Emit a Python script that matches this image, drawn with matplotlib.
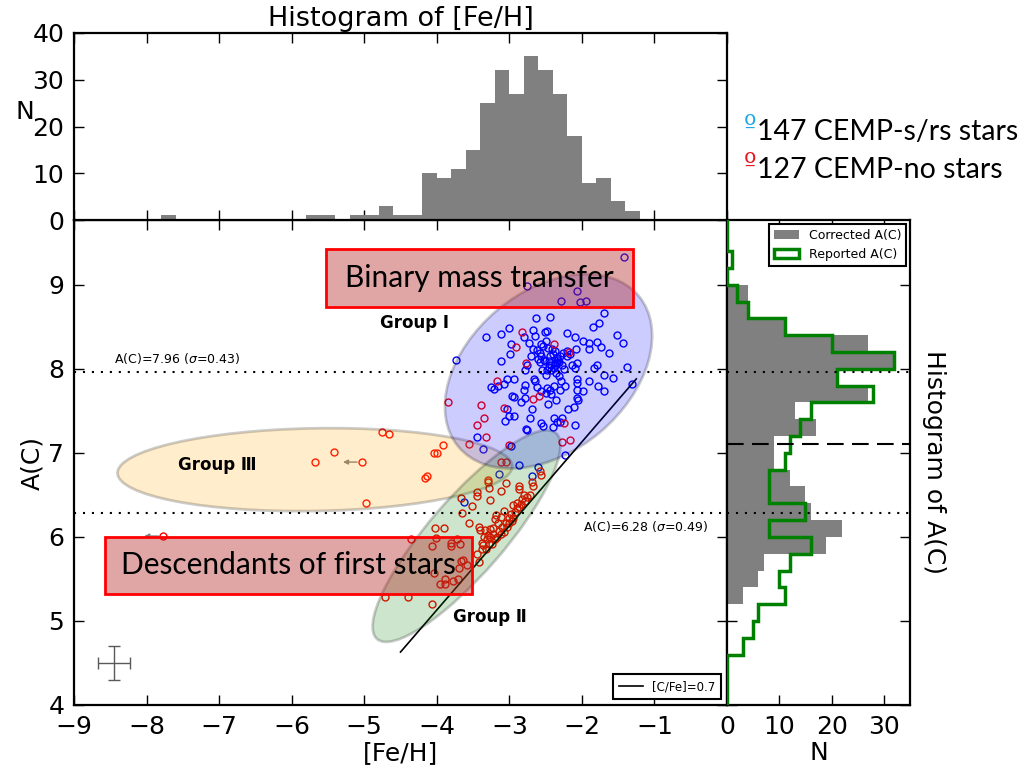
import numpy as np
import matplotlib
matplotlib.use("Agg")
import matplotlib.pyplot as plt
from matplotlib.patches import Ellipse, Rectangle, Patch
from matplotlib.transforms import Affine2D

# ---------------------------------------------------------------- data
# CEMP-s/rs stars: [Fe/H], A(C)
s_feh = [-1.42, -2.75, -2.07, -2.29, -2.03, -1.94,
         -1.69, -1.76, -1.85, -2.63, -2.44, -3.00, -3.11, -3.32, -2.67, -2.51, -2.48, -2.80,
         -2.64, -2.20, -2.10, -1.51, -1.43, -1.99, -1.90, -1.79, -1.74, -1.63, -1.90, -2.73,
         -2.98, -2.99, -2.57, -2.53, -2.49, -2.67, -2.62, -2.58, -2.47, -2.41, -2.37, -2.08,
         -2.44, -2.40, -2.34, -2.30, -2.26, -2.20, -2.16, -2.70, -2.57, -2.07, -2.14, -2.10,
         -1.79, -1.83, -1.38, -3.73, -3.12, -2.75, -2.58, -2.51, -2.46, -2.42, -2.37, -2.34,
         -2.31, -2.37, -2.39, -2.78, -2.55, -2.48, -2.42, -2.24, -1.70, -1.57, -1.90, -2.07,
         -2.07, -2.31, -3.03, -2.94, -3.08, -3.15, -3.21, -3.25, -2.66, -2.64, -2.78, -2.80,
         -2.62, -2.48, -2.39, -2.30, -2.23, -1.78, -1.69, -1.99, -2.07, -1.31, -2.56, -2.49,
         -2.44, -2.96, -2.94, -2.78, -2.84, -2.35, -2.47, -2.07, -2.05, -2.11, -2.19, -3.03,
         -2.69, -3.01, -2.94, -3.06, -2.72, -2.38, -2.28, -2.34, -2.30, -2.57, -2.54, -2.40,
         -2.09, -2.77, -2.75, -3.45, -3.36, -2.23, -2.87, -3.14, -2.69, -3.63, -2.98, -2.61,
         -2.52, -2.33, -2.45, -2.27, -2.60, -2.21, -2.36, -2.50, -2.29, -2.43]
s_ac = [9.33, 8.99, 8.92, 8.81, 8.79, 8.81,
        8.66, 8.54, 8.50, 8.60, 8.62, 8.48, 8.41, 8.38, 8.46, 8.44, 8.45, 8.38,
        8.39, 8.42, 8.38, 8.40, 8.31, 8.33, 8.31, 8.32, 8.26, 8.19, 8.24, 8.31,
        8.29, 8.18, 8.29, 8.27, 8.33, 8.23, 8.22, 8.19, 8.25, 8.23, 8.21, 8.23,
        8.15, 8.17, 8.13, 8.15, 8.19, 8.15, 8.17, 8.15, 8.15, 8.07, 8.04, 8.01,
        8.05, 8.01, 8.02, 8.10, 8.09, 8.05, 8.08, 8.09, 8.09, 8.05, 8.07, 8.07,
        8.08, 8.04, 8.01, 7.98, 7.98, 7.99, 7.98, 8.00, 7.93, 7.89, 7.86, 7.88,
        7.83, 7.91, 7.88, 7.88, 7.82, 7.79, 7.76, 7.78, 7.88, 7.86, 7.81, 7.75,
        7.78, 7.77, 7.79, 7.75, 7.79, 7.79, 7.74, 7.74, 7.75, 7.82, 7.74, 7.71,
        7.75, 7.68, 7.67, 7.65, 7.60, 7.63, 7.58, 7.65, 7.63, 7.55, 7.52, 7.52,
        7.52, 7.44, 7.44, 7.38, 7.42, 7.42, 7.42, 7.37, 7.37, 7.35, 7.32, 7.31,
        7.33, 7.28, 7.27, 7.19, 7.04, 6.97, 6.85, 6.75, 6.73, 6.42, 7.08, 6.83,
        8.11, 8.10, 8.02, 8.04, 8.12, 8.21, 7.95, 7.93, 7.86, 7.70]

# CEMP-no stars: [Fe/H], A(C)
n_feh = [-2.83, -2.39, -2.18, -2.91, -2.77, -3.17, -2.67, -2.59, -3.08, -3.39,
         -3.35, -3.45, -3.32, -3.56, -3.01, -2.24, -2.16, -2.28, -3.85, -3.92,
         -3.11, -3.05, -4.04, -4.00, -4.16, -4.13,
         -4.76, -4.66, -5.41, -5.68, -4.98,
         -3.30, -3.30, -3.44, -3.45, -3.28, -3.12, -3.05, -2.87, -2.86, -2.69,
         -2.67, -2.58, -2.57, -3.26, -2.76, -2.79, -2.84, -2.89, -3.08, -2.92,
         -2.86, -2.72, -3.12, -3.18, -3.20, -3.16, -3.01, -2.95, -3.00, -3.03,
         -3.08, -3.12, -3.17, -3.23, -3.27, -3.31, -3.35, -3.30, -3.40, -3.33,
         -3.27, -3.38, -3.28, -3.24, -3.32, -3.38, -3.44, -3.42, -3.42, -3.66,
         -3.52, -3.65, -3.56, -4.03, -3.90,
         -3.20, -3.14, -3.05, -2.98, -2.90, -2.80, -2.97, -3.36, -3.10, -2.83,
         -3.22, -2.95,
         -4.36, -4.06, -4.01, -3.81, -3.81, -3.72, -3.68, -3.64, -3.66, -3.70,
         -3.58, -4.04, -3.89, -3.95, -3.89, -3.77, -3.71,
         -4.39, -4.06, -4.71]
n_ac = [8.44, 8.30, 8.20, 8.26, 8.07, 7.86, 7.64, 7.68, 7.53, 7.57,
        7.42, 7.33, 7.19, 7.11, 7.09, 7.36, 7.15, 7.13, 7.60, 7.09,
        6.89, 6.89, 7.00, 7.00, 6.70, 6.72,
        7.25, 7.22, 7.01, 6.89, 6.40,
        6.68, 6.65, 6.53, 6.49, 6.58, 6.54, 6.64, 6.60, 6.57, 6.65,
        6.60, 6.78, 6.74, 6.44, 6.47, 6.43, 6.39, 6.34, 6.31, 6.30,
        6.36, 6.50, 6.24, 6.26, 6.21, 6.16, 6.22, 6.23, 6.16, 6.12,
        6.06, 6.03, 6.00, 6.03, 6.00, 5.97, 6.00, 6.02, 6.08, 6.08,
        6.09, 5.93, 5.92, 5.91, 5.85, 5.85, 5.80, 5.70, 6.12, 6.46,
        6.37, 6.29, 6.17, 6.10, 6.10,
        5.97, 6.07, 6.17, 6.27, 6.40, 6.50, 6.19, 5.90, 6.12, 6.45,
        6.10, 6.38,
        5.97, 5.89, 5.99, 5.93, 5.89, 5.97, 5.92, 5.73, 5.71, 5.63,
        5.66, 5.57, 5.50, 5.44, 5.44, 5.48, 5.50,
        5.28, 5.20, 5.28]

# CEMP-no stars with [Fe/H] upper limits
lim_feh = [-5.03, -7.77]
lim_ac = [6.89, 6.01]

# [Fe/H] histogram, 0.2 dex bins from -9 to 0
feh_edges = np.round(np.arange(-9.0, 0.001, 0.2), 2)
feh_counts = [0, 0, 0, 0, 0, 0, 1, 0, 0, 0,
              0, 0, 0, 0, 0, 0, 1, 1, 0, 1,
              1, 3, 1, 1, 10, 9, 11, 15, 25, 32,
              27, 35, 32, 27, 18, 8, 9, 4, 2, 0,
              0, 0, 0, 0, 0]

# A(C) histograms, 0.2 dex bins from 4 to 10
ac_edges = np.round(np.arange(4.0, 10.001, 0.2), 2)
ac_corrected = [0, 0, 0, 0, 0, 0, 3, 6, 7, 19,
                22, 16, 15, 12, 9, 9, 17, 13, 27, 21,
                32, 27, 11, 4, 4, 0, 0, 0, 0, 0]
ac_reported = [0, 0, 0, 3, 5, 6, 11, 10, 12, 16,
               8, 15, 8, 8, 11, 12, 14, 16, 28, 21,
               32, 20, 11, 4, 2, 0, 1, 0, 0, 0]

mean_hi, sig_hi = 7.96, 0.43
mean_lo, sig_lo = 6.28, 0.49
ac_split = 7.1
cfe_limit = 0.7
solar_c = 8.43

# ---------------------------------------------------------------- figure
W, H = 1023, 773
fig = plt.figure(figsize=(W / 100, H / 100), dpi=100)
left, right = 74 / W, 727 / W
bottom, top = 1 - 705 / H, 1 - 220 / H
ax = fig.add_axes([left, bottom, right - left, top - bottom])
axt = fig.add_axes([left, top, right - left, (1 - 33 / H) - top])
axr = fig.add_axes([right, bottom, (910 - 727) / W, top - bottom])

FS = 18
XLIM = (-9, 0)
YLIM = (4, 9.77)
tick_kw = dict(direction="in", length=7, width=1, top=True, right=True,
               labelsize=FS)
for a in (ax, axt, axr):
    a.tick_params(**tick_kw)
    a.tick_params(axis="x", pad=7)
    a.tick_params(axis="y", pad=7)
    for sp in a.spines.values():
        sp.set_linewidth(1.6)

# ---------------------------------------------------------------- main panel
ax.set_xlim(*XLIM)
ax.set_ylim(*YLIM)
ax.set_xticks(range(-9, 1))
ax.set_yticks(range(4, 10))

ax.plot(s_feh, s_ac, "o", mfc="none", mec="blue", ms=5, mew=1, zorder=2)
ax.plot(n_feh, n_ac, "o", mfc="none", mec="red", ms=5, mew=1, zorder=2)
ax.plot(lim_feh, lim_ac, "o", mfc="none", mec="red", ms=5, mew=1, zorder=2)
for fx, fy in zip(lim_feh, lim_ac):
    ax.annotate("", xy=(fx - 0.3, fy), xytext=(fx - 0.03, fy),
                arrowprops=dict(arrowstyle="-|>", color="gray", lw=1,
                                mutation_scale=7), zorder=2)

# [C/Fe] = 0.7 boundary
line_x = np.array([-4.5, -1.25])
ax.plot(line_x, line_x + cfe_limit + solar_c, color="k", lw=1.2, zorder=3,
        label="[C/Fe]=0.7")

# group ellipses, sized in screen-proportional units
ax_w_px = (right - left) * W
ax_h_px = (top - bottom) * H
k = (ax_w_px / (XLIM[1] - XLIM[0])) / (ax_h_px / (YLIM[1] - YLIM[0]))


def group_oval(center, a, b, angle, color):
    e = Ellipse((0, 0), 2 * a, 2 * b, angle=angle, facecolor=color,
                edgecolor="k", alpha=0.2, lw=2, zorder=3)
    e.set_transform(Affine2D().scale(1, k).translate(*center) + ax.transData)
    ax.add_patch(e)


group_oval((-5.68, 6.80), 2.72, 0.57, 1, "orange")
group_oval((-3.59, 6.01), 1.88, 0.52, 49, "green")
group_oval((-2.46, 7.97), 1.62, 1.10, 40, "blue")

ax.text(-4.78, 8.54, "Group Ⅰ", fontsize=12, fontweight="bold", va="center", zorder=5)
ax.text(-3.77, 5.05, "Group Ⅱ", fontsize=12, fontweight="bold", va="center", zorder=5)
ax.text(-7.56, 6.85, "Group Ⅲ", fontsize=12, fontweight="bold", va="center", zorder=5)

# mean A(C) levels
dot = (0, (1, 3.3))
ax.axhline(mean_hi, color="k", lw=1.5, ls=dot, zorder=4)
ax.axhline(mean_lo, color="k", lw=1.5, ls=dot, zorder=4)
ax.text(-8.45, mean_hi + 0.07, r"A(C)=%.2f ($\sigma$=%.2f)" % (mean_hi, sig_hi),
        fontsize=9, va="bottom", zorder=5)
ax.text(-0.26, mean_lo - 0.07, r"A(C)=%.2f ($\sigma$=%.2f)" % (mean_lo, sig_lo),
        fontsize=9, va="top", ha="right", zorder=5)

# annotation boxes
box_fc = (0.698, 0.133, 0.133, 0.4)
ax.add_patch(Rectangle((-5.53, 8.73), 4.24, 0.70, facecolor=box_fc,
                       edgecolor="red", lw=2, zorder=4))
ax.text(-3.41, 9.08, "Binary mass transfer", fontsize=21.5, family="Lato",
        ha="center", va="center", zorder=5)
ax.add_patch(Rectangle((-8.57, 5.32), 5.06, 0.68, facecolor=box_fc,
                       edgecolor="red", lw=2, zorder=4))
ax.text(-6.04, 5.66, "Descendants of first stars", fontsize=21.5, family="Lato",
        ha="center", va="center", zorder=5)

# typical uncertainty
ax.errorbar([-8.45], [4.5], xerr=[0.22], yerr=[0.2], color="0.35", lw=1,
            capsize=4, capthick=1, zorder=5)

leg = ax.legend(loc="lower right", fontsize=8.5, fancybox=False, edgecolor="k",
                framealpha=1, handlelength=2, borderpad=0.5)
leg.get_frame().set_linewidth(1.5)

ax.set_xlabel("[Fe/H]", fontsize=FS, labelpad=2)
ax.set_ylabel("A(C)", fontsize=FS, labelpad=3)

# ---------------------------------------------------------------- top histogram
axt.stairs(feh_counts, feh_edges, fill=True, color="gray", zorder=2)
axt.set_xlim(*XLIM)
axt.set_ylim(0, 40)
axt.set_xticks(range(-9, 1))
axt.set_yticks(range(0, 41, 10))
axt.tick_params(labelbottom=False)
axt.set_ylabel("N", fontsize=FS, rotation=0, va="center", ha="center")
axt.yaxis.set_label_coords(-0.075, 0.58)
axt.set_title("Histogram of [Fe/H]", fontsize=19.5, pad=5)

# ---------------------------------------------------------------- right histogram
axr.stairs(ac_corrected, ac_edges, orientation="horizontal", fill=True,
           color="gray", zorder=2)
axr.stairs(ac_reported, ac_edges, orientation="horizontal", fill=False,
           baseline=0, color="green", lw=2.5, zorder=3)
axr.set_ylim(*YLIM)
axr.set_xlim(0, 35)
axr.set_xticks([0, 10, 20, 30])
axr.set_xticklabels(["", "10", "20", "30"])
axr.set_yticks(range(4, 10))
axr.tick_params(labelleft=False)
axr.axhline(mean_hi, color="k", lw=1.5, ls=dot, zorder=4)
axr.axhline(mean_lo, color="k", lw=1.5, ls=dot, zorder=4)
axr.axhline(ac_split, color="k", lw=1.5, ls=(0, (8, 4)), zorder=4)
axr.set_xlabel("N", fontsize=FS, labelpad=2)
axr.yaxis.set_label_position("right")
axr.set_ylabel("Histogram of A(C)", fontsize=FS, rotation=270, labelpad=26)
handles = [Patch(facecolor="gray", edgecolor="none", label="Corrected A(C)"),
           Patch(facecolor="white", edgecolor="green", lw=2.5, label="Reported A(C)")]
rleg = axr.legend(handles=handles, loc="upper right", fontsize=9, fancybox=False,
                  edgecolor="k", framealpha=1, borderaxespad=0.3)
rleg.get_frame().set_linewidth(1.5)

# ---------------------------------------------------------------- sample key
fig.text(756 / W, 1 - 127 / H, "º", color="#1ea7e6", fontsize=19,
         family="DejaVu Sans", va="center", ha="right")
fig.text(757 / W, 1 - 132 / H, "147 CEMP-s/rs stars", fontsize=20.5,
         family="Lato", va="center")
fig.text(756 / W, 1 - 165 / H, "º", color="#e8141e", fontsize=19,
         family="DejaVu Sans", va="center", ha="right")
fig.text(757 / W, 1 - 170 / H, "127 CEMP-no stars", fontsize=20.5,
         family="Lato", va="center")

fig.savefig("out.png", dpi=100)
